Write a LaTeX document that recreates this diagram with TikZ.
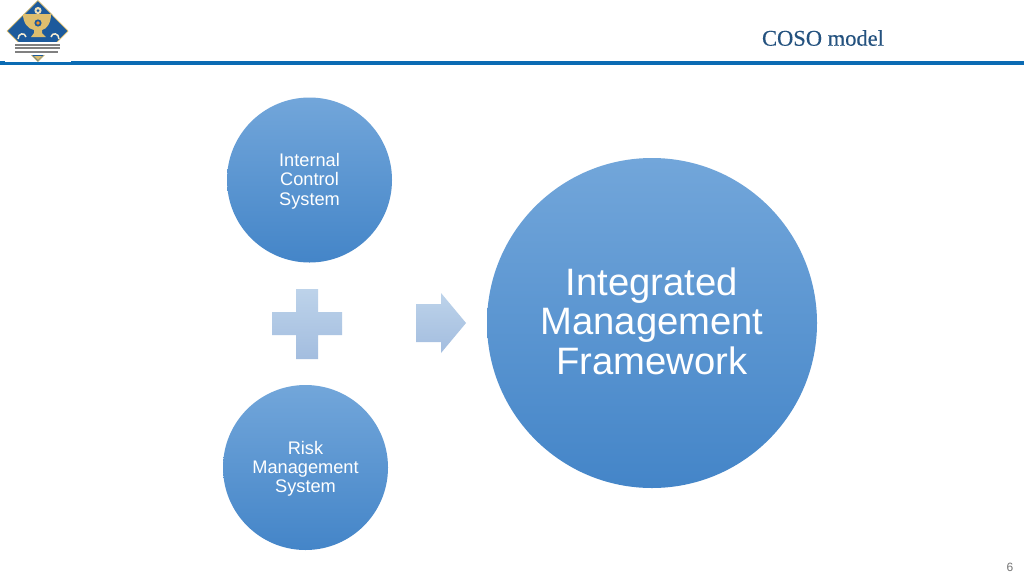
\documentclass[tikz,border=0pt]{standalone}
\usepackage{fontspec}
\setmainfont{Liberation Sans}
\newfontfamily\serifhead[FakeBold=0.35]{Liberation Serif}
\definecolor{barblue}{HTML}{0B6BB3}
\definecolor{headblue}{HTML}{24527F}
\definecolor{logoblue}{HTML}{1C5A9C}
\definecolor{logogold}{HTML}{DDBE6E}
\definecolor{topblue}{HTML}{72A6DA}
\definecolor{midblue}{HTML}{5897D5}
\definecolor{botblue}{HTML}{4485C8}
\definecolor{softtop}{HTML}{BDD3EA}
\definecolor{softbot}{HTML}{A3BDDF}
\tikzset{
  ball/.style={circle,inner sep=0pt,top color=topblue,middle color=midblue,bottom color=botblue,text=white,align=center},
  smallball/.style={ball,minimum size=165pt,font=\fontsize{18.2}{19.2}\selectfont},
  bigball/.style={ball,minimum size=330pt,font=\fontsize{38.2}{39.5}\selectfont},
  softshape/.style={top color=softtop,bottom color=softbot,draw=none},
  goldfill/.style={fill=logogold,draw=none},
  logotext/.style={fill=black!50,draw=none}
}
\begin{document}
\begin{tikzpicture}[x=1pt,y=-1pt]
\useasboundingbox (0,0) rectangle (1024,576);
\fill[white] (0,0) rectangle (1024,576);
% header
\fill[barblue] (0,61) rectangle (1024,64.5);
\fill[white] (5,0) rectangle (71,62);
% logo
\filldraw[fill=logoblue,draw=logogold,line width=0.7pt] (38,0.5) -- (68,31) -- (38,61.5) -- (7,31) -- cycle;
\fill[goldfill] (23,14) -- (51,14) .. controls (51,23) and (47,29) .. (42,30) -- (42,33) -- (46,37) -- (31,37) -- (34,33) -- (34,30) .. controls (28,29) and (23,23) .. (23,14) -- cycle;
\fill[logoblue] (38,23) circle (3.6);
\fill[orange!70!logogold] (38,23) circle (1.8);
\fill[logogold!50!white] (38,10.5) circle (3.6);
\fill[logoblue] (38,10.5) circle (1.5);
\draw[white!70!logogold,line width=1.5pt] (18,39) .. controls (18,33) and (25,32) .. (26,37);
\draw[white!70!logogold,line width=1.5pt] (59,39) .. controls (59,33) and (52,32) .. (51,37);
\fill[white] (14,42) rectangle (62,55);
\fill[logotext] (15,43.5) rectangle (60,45.5);
\fill[logotext] (15,47.3) rectangle (60,49.3);
\fill[logotext] (15,51) rectangle (58,53);
\fill[goldfill] (34,56) -- (42,56) -- (38,60) -- cycle;
\node[text=headblue,font=\serifhead\fontsize{22.5}{24}\selectfont,anchor=center] (title) at (823,38) {COSO model};
% circles
\node[smallball] (ics) at (309.5,180) {\rule{0pt}{15.5pt}Internal\\Control\\System};
\node[smallball] (rms) at (305.5,467.5) {\rule{0pt}{15.5pt}Risk\\Management\\System};
\node[bigball] (imf) at (652,323) {Integrated\\Management\\Framework\rule[-4pt]{0pt}{4pt}};
% plus
\path[softshape] (296,289) -- (318,289) -- (318,312) -- (342,312) -- (342,335) -- (318,335) -- (318,359) -- (296,359) -- (296,335) -- (272,335) -- (272,312) -- (296,312) -- cycle;
% arrow
\path[softshape] (416,304) -- (441,304) -- (441,293) -- (466,323) -- (441,353) -- (441,342) -- (416,342) -- cycle;
\node[text=black!55,font=\fontsize{12}{14}\selectfont] (pagenum) at (1010,567) {6};
\end{tikzpicture}
\end{document}
